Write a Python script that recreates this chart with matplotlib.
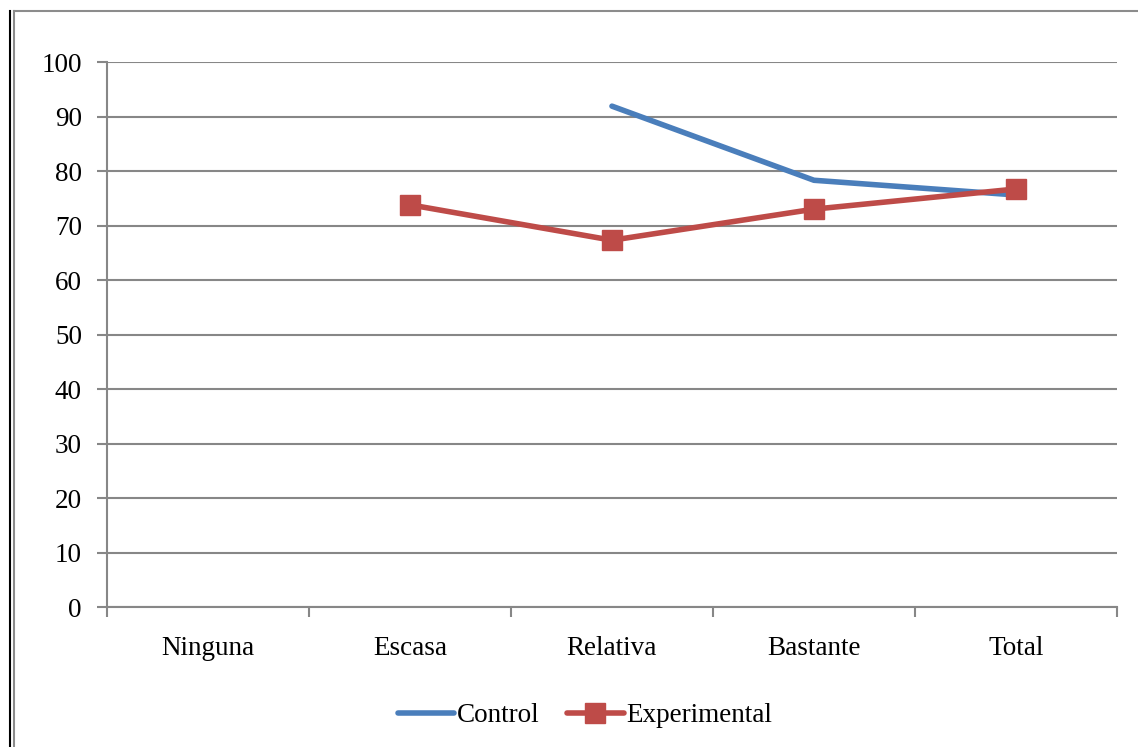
import matplotlib.pyplot as plt
import numpy as np
from matplotlib.lines import Line2D

plt.rcParams['font.family'] = ['Liberation Serif', 'DejaVu Serif']

categories = ["Ninguna", "Escasa", "Relativa", "Bastante", "Total"]
control = [np.nan, np.nan, 91.9, 78.3, 75.6]
experimental = [np.nan, 73.8, 67.3, 73.0, 76.7]
yticks = [0, 10, 20, 30, 40, 50, 60, 70, 80, 90, 100]

grid_color = "#878787"
blue = "#4a7ebb"
red = "#be4b48"

fig = plt.figure(figsize=(11.38, 7.47), dpi=100)
ax = fig.add_axes([0.094, 0.1874, 0.8875, 0.7296])

x = np.arange(len(categories))
ax.plot(x, control, color=blue, lw=4, solid_capstyle="round",
        solid_joinstyle="round", label="Control", zorder=3)
ax.plot(x, experimental, color=red, lw=4, marker="s", markersize=14,
        solid_capstyle="round", solid_joinstyle="round",
        label="Experimental", zorder=4)

ax.set_xlim(-0.5, len(categories) - 0.5)
ax.set_ylim(0, 100)
ax.set_yticks(yticks)
ax.set_xticks(x)
ax.set_xticklabels(categories)
ax.set_xticks(np.arange(-0.5, len(categories)), minor=True)

ax.yaxis.grid(True, color=grid_color, lw=1.5)
ax.set_axisbelow(True)
for side in ("top", "right"):
    ax.spines[side].set_visible(False)
for side in ("left", "bottom"):
    ax.spines[side].set_color(grid_color)
    ax.spines[side].set_linewidth(1.5)

ax.tick_params(axis="y", direction="out", length=7, width=1.5, color=grid_color,
               labelsize=19.5, pad=11)
ax.tick_params(axis="x", which="major", length=0, labelsize=19.5, pad=21)
ax.tick_params(axis="x", which="minor", direction="out", length=7, width=1.5,
               color=grid_color)

fig.legend(loc="center", bbox_to_anchor=(0.514, 0.042), ncol=2, frameon=False,
           fontsize=19.5, handlelength=2.1, handletextpad=0.1, columnspacing=1.0)

# chart frame and page border
fig.add_artist(Line2D([14 / 1138, 1.0], [1 - 11 / 747, 1 - 11 / 747],
                      color="#8c8c8c", lw=1.5))
fig.add_artist(Line2D([14 / 1138, 14 / 1138], [0, 1 - 11 / 747],
                      color="#8c8c8c", lw=1.5))
fig.add_artist(Line2D([10 / 1138, 10 / 1138], [0, 1 - 11 / 747],
                      color="black", lw=1.5))

fig.savefig("out.png", dpi=100)
